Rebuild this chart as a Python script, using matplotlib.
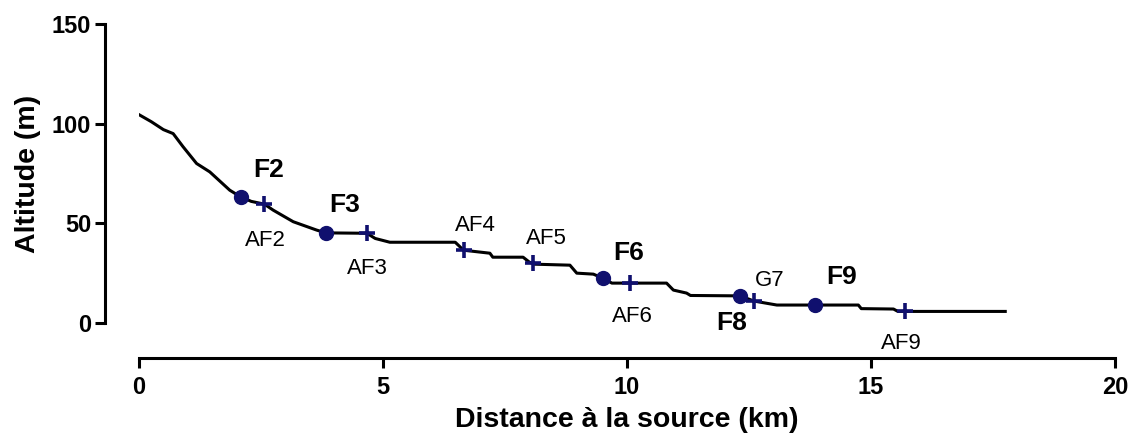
# Altitude profile along the river, with sampling sites

import numpy as np
import matplotlib.pyplot as plt

plt.rcParams['font.family'] = ['Liberation Sans', 'DejaVu Sans']

# river profile (distance km, altitude m)
dist = [0, 0.25, 0.5, 0.7, 0.9, 1.18, 1.45, 1.86, 2.08, 2.3, 2.57, 2.75, 3.16, 3.64,
        3.83, 4.67, 4.84, 5.14, 6.48, 6.65, 7.19, 7.25, 7.87, 8.0, 8.1, 8.83, 8.97,
        9.31, 9.51, 9.69, 10.81, 10.95, 11.22, 11.3, 12.32, 12.6, 13.07, 14.74, 14.8,
        15.46, 15.55, 17.75]
alt = [104.5, 101, 97, 95, 88.5, 80, 75.8, 66.6, 63.3, 61, 59.6, 56.6, 50.8, 46.6,
       45.2, 45.0, 42.4, 40.5, 40.5, 36.5, 35, 33, 33, 30.5, 29.5, 29, 25,
       24.5, 22.4, 20, 20, 16.5, 15, 13.8, 13.6, 11, 9, 9, 7.2,
       7, 5.8, 5.8]

# F sites (circles)
f_names = ['F2', 'F3', 'F6', 'F8', 'F9']
f_x = [2.08, 3.83, 9.51, 12.32, 13.85]
f_y = [63.3, 45.2, 22.4, 13.6, 9.0]
f_lab_x = [2.65, 4.22, 10.04, 12.14, 14.4]
f_lab_y = [76.6, 59, 35, -0.2, 23.2]

# AF / G sites (crosses)
af_names = ['AF2', 'AF3', 'AF4', 'AF5', 'AF6', 'G7', 'AF9']
af_x = [2.57, 4.67, 6.65, 8.08, 10.06, 12.6, 15.7]
af_y = [59.6, 45.0, 36.5, 30.0, 20.0, 11.0, 5.8]
af_lab_x = [2.6, 4.67, 6.9, 8.35, 10.1, 12.93, 15.63]
af_lab_y = [41.6, 27.5, 49, 42.4, 3.2, 21.5, -10.2]

navy = '#10106e'

fig = plt.figure(figsize=(11.31, 4.34), dpi=100)
ax = fig.add_axes([0.1229, 0.2558, 0.863, 0.689])

ax.plot(dist, alt, color='black', lw=2.2, zorder=2)
ax.plot(f_x, f_y, 'o', color=navy, ms=10, zorder=3)
ax.plot(af_x, af_y, '+', color=navy, ms=12, mew=2.6, zorder=3)

for n, x, y in zip(f_names, f_lab_x, f_lab_y):
    ax.text(x, y, n, fontsize=19, fontweight='bold', ha='center', va='center', clip_on=False)
for n, x, y in zip(af_names, af_lab_x, af_lab_y):
    ax.text(x, y, n, fontsize=16, ha='center', va='center', clip_on=False)

ax.set_xlim(0, 20)
ax.set_ylim(0, 150)
ax.set_xticks([0, 5, 10, 15, 20])
ax.set_yticks([0, 50, 100, 150])

ax.spines['top'].set_visible(False)
ax.spines['right'].set_visible(False)
ax.spines['left'].set_position(('outward', 24.5))
ax.spines['bottom'].set_position(('outward', 25.2))
for s in ['left', 'bottom']:
    ax.spines[s].set_linewidth(2.2)
ax.tick_params(width=2.2, length=7, labelsize=17)
ax.tick_params(axis='y', pad=3)
ax.tick_params(axis='x', pad=6)
for lab in ax.get_xticklabels() + ax.get_yticklabels():
    lab.set_fontweight('bold')

ax.set_xlabel('Distance à la source (km)', fontsize=20.5, fontweight='bold', labelpad=6)
ax.set_ylabel('Altitude (m)', fontsize=20.5, fontweight='bold', labelpad=8)

fig.savefig('out.png', dpi=100)
